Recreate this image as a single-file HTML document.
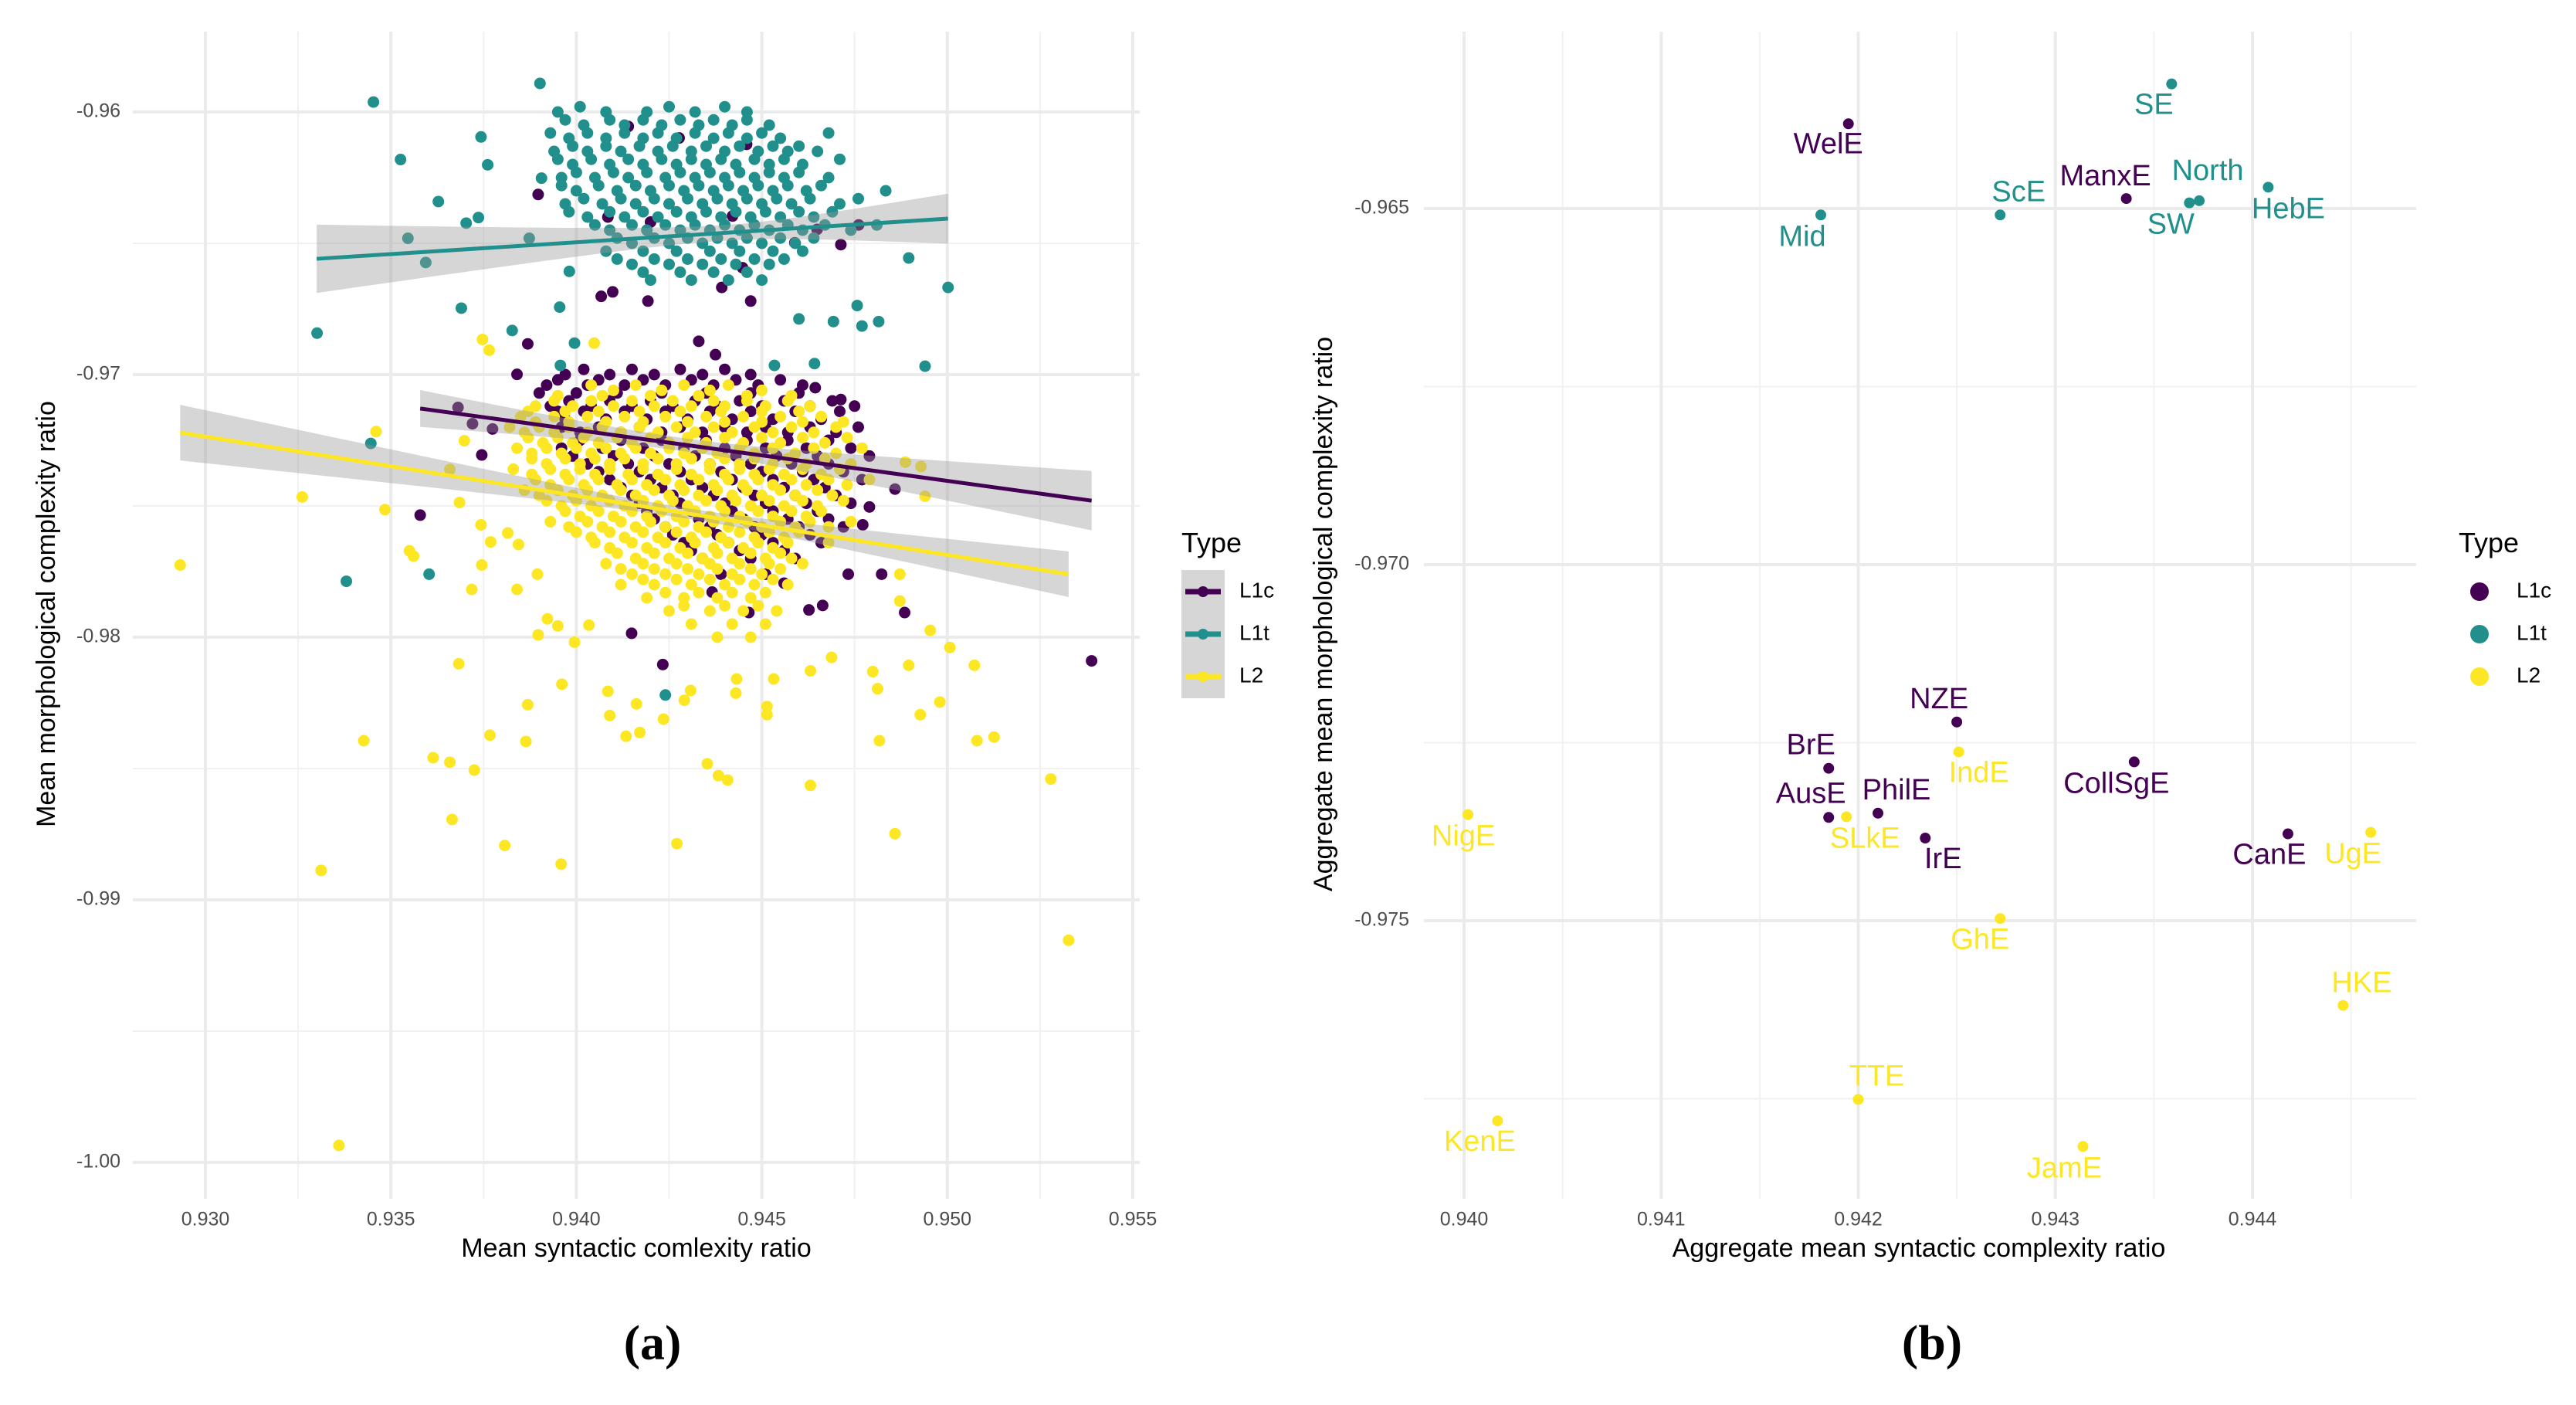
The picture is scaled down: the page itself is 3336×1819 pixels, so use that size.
<!DOCTYPE html>
<html><head><meta charset="utf-8"><style>
html,body{margin:0;padding:0;background:#fff;}
svg{display:block;font-family:"Liberation Sans",sans-serif;}
</style></head><body>
<svg id="fig" width="3336" height="1819" viewBox="0 0 3336 1819" xmlns="http://www.w3.org/2000/svg">
<rect width="3336" height="1819" fill="#fff"/>
<g id="pa"></g>
<g id="pb"></g>
<text x="845" y="1745" font-family="Liberation Serif,serif" font-weight="bold" font-size="64" text-anchor="middle" dominant-baseline="middle">(a)</text>
<text x="2502" y="1745" font-family="Liberation Serif,serif" font-weight="bold" font-size="64" text-anchor="middle" dominant-baseline="middle">(b)</text>
</svg>
<script>
const NS='http://www.w3.org/2000/svg';
const groups=['L1c','L1t','L2'];
const colors={L1c:'#440154',L1t:'#21908C',L2:'#FDE725'};
// ---- panel a data ----
const aXTicks=[0.930,0.935,0.940,0.945,0.950,0.955];
const aYTicks=[-0.96,-0.97,-0.98,-0.99,-1.00];
const aYTickLabels=['-0.96','-0.97','-0.98','-0.99','-1.00'];
const l1cX=[0.9402,0.9415,0.9428,0.9440,0.9395,0.9406,0.9418,0.9431,0.9443,0.9455,0.9390,0.9400,0.9411,0.9423,0.9435,0.9447,0.9460,0.9393,0.9404,0.9415,0.9426,0.9438,0.9450,0.9463,0.9475,0.9397,0.9408,0.9419,0.9430,0.9442,0.9453,0.9466,0.9401,0.9412,0.9423,0.9434,0.9446,0.9457,0.9470,0.9396,0.9407,0.9418,0.9429,0.9440,0.9451,0.9462,0.9474,0.9403,0.9414,0.9425,0.9436,0.9447,0.9458,0.9468,0.9409,0.9420,0.9431,0.9442,0.9453,0.9464,0.9477,0.9415,0.9426,0.9437,0.9448,0.9459,0.9470,0.9419,0.9431,0.9442,0.9453,0.9465,0.9424,0.9436,0.9448,0.9460,0.9472,0.9429,0.9441,0.9453,0.9466,0.9434,0.9447,0.9459,0.9439,0.9451,
0.95389,0.94233,0.94149,0.93579,0.94885,0.94664,0.94627,0.94733,0.94823,0.94772,0.94644,0.94713,0.93681,0.93720,0.93745,0.93840,0.93869,0.93774,0.94790,0.94859,0.94560,0.94465,0.94366,
0.93897,0.94140,0.94085,0.94098,0.94200,0.94277,0.94421,0.94459,0.94589,0.94713,0.94448,0.94392,0.94330,0.94470,0.94649,0.94761,0.94067,0.94193,0.94375,
0.9397,0.9409,0.9421,0.9434,0.9447,0.9392,0.9403,0.9413,0.9424,0.9437,0.9449,0.9461,0.9398,0.9409,0.9420,0.9432,0.9444,0.9456,0.9469,0.9395,0.9402,0.9413,0.9424,0.9436,0.9447,0.9459,0.9471,0.9396,0.9406,0.9417,0.9428,0.9440,0.9451,0.9463,0.9476,0.9401,0.9412,0.9423,0.9435,0.9446,0.9457,0.9468,0.9399,0.9410,0.9421,0.9432,0.9443,0.9454,0.9465,0.9479,0.9406,0.9417,0.9428,0.9439,0.9450,0.9461,0.9472,0.9412,0.9423,0.9434,0.9445,0.9456,0.9467,0.9417,0.9428,0.9440,0.9451,0.9462,0.9474,0.9421,0.9433,0.9445,0.9457,0.9468,0.9426,0.9438,0.9450,0.9463,0.9431,0.9444,0.9456];
const l1cY=[-0.9698,-0.9698,-0.9698,-0.9698,-0.9702,-0.9702,-0.9702,-0.9702,-0.9702,-0.9702,-0.9707,-0.9707,-0.9707,-0.9707,-0.9707,-0.9707,-0.9707,-0.9712,-0.9712,-0.9712,-0.9712,-0.9712,-0.9712,-0.9712,-0.9712,-0.9717,-0.9717,-0.9717,-0.9717,-0.9717,-0.9717,-0.9717,-0.9722,-0.9722,-0.9722,-0.9722,-0.9722,-0.9722,-0.9722,-0.9728,-0.9728,-0.9728,-0.9728,-0.9728,-0.9728,-0.9728,-0.9728,-0.9734,-0.9734,-0.9734,-0.9734,-0.9734,-0.9734,-0.9734,-0.9740,-0.9740,-0.9740,-0.9740,-0.9740,-0.9740,-0.9740,-0.9746,-0.9746,-0.9746,-0.9746,-0.9746,-0.9746,-0.9752,-0.9752,-0.9752,-0.9752,-0.9752,-0.9758,-0.9758,-0.9758,-0.9758,-0.9758,-0.9764,-0.9764,-0.9764,-0.9764,-0.9770,-0.9770,-0.9770,-0.9776,-0.9776,
-0.98090,-0.98104,-0.97985,-0.97535,-0.97906,-0.97879,-0.97896,-0.97760,-0.97760,-0.97572,-0.97050,-0.97095,-0.97125,-0.97187,-0.97306,-0.96999,-0.96883,-0.97207,-0.97504,-0.97436,-0.97794,-0.97906,-0.97828,
-0.96314,-0.96055,-0.96400,-0.96685,-0.96419,-0.96099,-0.96396,-0.96123,-0.96498,-0.96505,-0.96593,-0.96668,-0.96873,-0.96720,-0.96447,-0.96430,-0.96702,-0.96720,-0.96924,
-0.9700,-0.9700,-0.9700,-0.9700,-0.9700,-0.9704,-0.9704,-0.9704,-0.9704,-0.9704,-0.9704,-0.9704,-0.9710,-0.9710,-0.9710,-0.9710,-0.9710,-0.9710,-0.9710,-0.9714,-0.9714,-0.9714,-0.9714,-0.9714,-0.9714,-0.9714,-0.9714,-0.9720,-0.9720,-0.9720,-0.9720,-0.9720,-0.9720,-0.9720,-0.9720,-0.9725,-0.9725,-0.9725,-0.9725,-0.9725,-0.9725,-0.9725,-0.9731,-0.9731,-0.9731,-0.9731,-0.9731,-0.9731,-0.9731,-0.9731,-0.9737,-0.9737,-0.9737,-0.9737,-0.9737,-0.9737,-0.9737,-0.9743,-0.9743,-0.9743,-0.9743,-0.9743,-0.9743,-0.9749,-0.9749,-0.9749,-0.9749,-0.9749,-0.9749,-0.9755,-0.9755,-0.9755,-0.9755,-0.9755,-0.9761,-0.9761,-0.9761,-0.9761,-0.9767,-0.9767,-0.9767];
const l1tX=[0.9401,0.9425,0.9440,0.9397,0.9409,0.9418,0.9428,0.9437,0.9446,0.9393,0.9403,0.9413,0.9422,0.9432,0.9441,0.9450,0.9468,0.9399,0.9408,0.9417,0.9426,0.9435,0.9444,0.9453,0.9460,0.9395,0.9404,0.9414,0.9423,0.9431,0.9439,0.9448,0.9456,0.9471,0.9400,0.9410,0.9419,0.9428,0.9436,0.9444,0.9452,0.9460,0.9396,0.9406,0.9416,0.9425,0.9433,0.9441,0.9449,0.9457,0.9466,0.9402,0.9412,0.9421,0.9430,0.9438,0.9446,0.9454,0.9463,0.9476,0.9398,0.9409,0.9418,0.9427,0.9435,0.9443,0.9451,0.9460,0.9469,0.9405,0.9415,0.9424,0.9432,0.9440,0.9448,0.9457,0.9467,0.9481,0.9411,0.9421,0.9430,0.9438,0.9446,0.9455,0.9464,0.9408,0.9418,0.9427,0.9436,0.9444,0.9453,0.9461,0.9415,0.9425,0.9434,0.9443,0.9452,0.9420,0.9431,0.9441,0.9450,
0.93453,0.93526,0.93301,0.93380,0.93446,0.93546,0.93594,0.93628,0.93690,0.93703,0.93736,0.93743,0.93761,0.93603,0.93827,0.93873,0.93902,0.93906,0.94940,0.95002,0.94896,0.94240,0.94815,0.94770,0.94757,0.94834,0.94642,0.94693,0.94600,0.94534,0.93957,0.93995,0.93955,0.93981,
0.9395,0.9408,0.9419,0.9432,0.9446,0.9402,0.9413,0.9423,0.9433,0.9442,0.9452,0.9398,0.9408,0.9418,0.9427,0.9437,0.9446,0.9455,0.9394,0.9403,0.9412,0.9422,0.9431,0.9440,0.9449,0.9457,0.9465,0.9399,0.9409,0.9418,0.9427,0.9435,0.9443,0.9452,0.9461,0.9396,0.9405,0.9414,0.9424,0.9432,0.9440,0.9448,0.9456,0.9468,0.9400,0.9411,0.9420,0.9429,0.9437,0.9445,0.9453,0.9462,0.9397,0.9407,0.9416,0.9425,0.9434,0.9442,0.9450,0.9458,0.9471,0.9403,0.9413,0.9422,0.9431,0.9439,0.9447,0.9455,0.9464,0.9409,0.9419,0.9428,0.9436,0.9444,0.9452,0.9461,0.9474,0.9415,0.9425,0.9434,0.9442,0.9450,0.9459,0.9411,0.9421,0.9430,0.9439,0.9448,0.9456,0.9418,0.9428,0.9437,0.9446];
const l1tY=[-0.9598,-0.9598,-0.9598,-0.9603,-0.9603,-0.9603,-0.9603,-0.9603,-0.9603,-0.9608,-0.9608,-0.9608,-0.9608,-0.9608,-0.9608,-0.9608,-0.9608,-0.9613,-0.9613,-0.9613,-0.9613,-0.9613,-0.9613,-0.9613,-0.9613,-0.9618,-0.9618,-0.9618,-0.9618,-0.9618,-0.9618,-0.9618,-0.9618,-0.9618,-0.9623,-0.9623,-0.9623,-0.9623,-0.9623,-0.9623,-0.9623,-0.9623,-0.9628,-0.9628,-0.9628,-0.9628,-0.9628,-0.9628,-0.9628,-0.9628,-0.9628,-0.9633,-0.9633,-0.9633,-0.9633,-0.9633,-0.9633,-0.9633,-0.9633,-0.9633,-0.9638,-0.9638,-0.9638,-0.9638,-0.9638,-0.9638,-0.9638,-0.9638,-0.9638,-0.9643,-0.9643,-0.9643,-0.9643,-0.9643,-0.9643,-0.9643,-0.9643,-0.9643,-0.9648,-0.9648,-0.9648,-0.9648,-0.9648,-0.9648,-0.9648,-0.9653,-0.9653,-0.9653,-0.9653,-0.9653,-0.9653,-0.9653,-0.9658,-0.9658,-0.9658,-0.9658,-0.9658,-0.9664,-0.9664,-0.9664,-0.9664,
-0.95962,-0.96181,-0.96842,-0.97787,-0.97262,-0.96481,-0.96573,-0.96341,-0.96747,-0.96423,-0.96402,-0.96095,-0.96201,-0.97760,-0.96832,-0.96481,-0.95891,-0.96252,-0.96968,-0.96668,-0.96556,-0.98220,-0.96798,-0.96815,-0.96737,-0.96300,-0.96958,-0.96798,-0.96788,-0.96965,-0.96965,-0.96880,-0.96743,-0.96607,
-0.9600,-0.9600,-0.9600,-0.9600,-0.9600,-0.9605,-0.9605,-0.9605,-0.9605,-0.9605,-0.9605,-0.9610,-0.9610,-0.9610,-0.9610,-0.9610,-0.9610,-0.9610,-0.9615,-0.9615,-0.9615,-0.9615,-0.9615,-0.9615,-0.9615,-0.9615,-0.9615,-0.9620,-0.9620,-0.9620,-0.9620,-0.9620,-0.9620,-0.9620,-0.9620,-0.9625,-0.9625,-0.9625,-0.9625,-0.9625,-0.9625,-0.9625,-0.9625,-0.9625,-0.9630,-0.9630,-0.9630,-0.9630,-0.9630,-0.9630,-0.9630,-0.9630,-0.9635,-0.9635,-0.9635,-0.9635,-0.9635,-0.9635,-0.9635,-0.9635,-0.9635,-0.9640,-0.9640,-0.9640,-0.9640,-0.9640,-0.9640,-0.9640,-0.9640,-0.9645,-0.9645,-0.9645,-0.9645,-0.9645,-0.9645,-0.9645,-0.9645,-0.9650,-0.9650,-0.9650,-0.9650,-0.9650,-0.9650,-0.9656,-0.9656,-0.9656,-0.9656,-0.9656,-0.9656,-0.9661,-0.9661,-0.9661,-0.9661];
const l2X=[0.9404,0.9416,0.9429,0.9441,0.9395,0.9407,0.9420,0.9433,0.9446,0.9458,0.9389,0.9399,0.9410,0.9421,0.9431,0.9440,0.9451,0.9463,0.9385,0.9394,0.9403,0.9413,0.9424,0.9435,0.9445,0.9455,0.9466,0.9382,0.9390,0.9398,0.9407,0.9417,0.9427,0.9437,0.9448,0.9458,0.9470,0.9387,0.9395,0.9402,0.9411,0.9420,0.9430,0.9440,0.9450,0.9461,0.9473,0.9384,0.9392,0.9400,0.9408,0.9416,0.9425,0.9434,0.9444,0.9453,0.9464,0.9477,0.9388,0.9397,0.9405,0.9413,0.9422,0.9431,0.9440,0.9448,0.9457,0.9467,0.9383,0.9393,0.9401,0.9409,0.9418,0.9427,0.9436,0.9444,0.9452,0.9461,0.9471,0.9389,0.9398,0.9406,0.9415,0.9424,0.9433,0.9441,0.9449,0.9458,0.9468,0.9479,0.9386,0.9395,0.9403,0.9412,0.9421,0.9429,0.9438,0.9446,0.9455,0.9465,0.9392,0.9400,0.9409,0.9418,0.9426,0.9435,0.9443,0.9452,0.9461,0.9472,0.9397,0.9406,0.9415,0.9423,0.9432,0.9440,0.9449,0.9458,0.9466,0.9393,0.9403,0.9412,0.9420,0.9429,0.9437,0.9446,0.9455,0.9463,0.9474,0.9400,0.9409,0.9418,0.9427,0.9435,0.9444,0.9452,0.9460,0.9405,0.9415,0.9424,0.9432,0.9441,0.9449,0.9457,0.9468,0.9411,0.9421,0.9430,0.9438,0.9447,0.9455,0.9408,0.9418,0.9427,0.9436,0.9444,0.9452,0.9461,0.9415,0.9424,0.9433,0.9442,0.9450,0.9412,0.9421,0.9431,0.9440,0.9448,0.9457,0.9419,0.9429,0.9438,0.9447,0.9425,0.9436,0.9445,0.9454,0.9431,0.9442,0.9451,0.9438,0.9447,
0.93261,0.93312,0.93360,0.93427,0.93460,0.93484,0.93550,0.93561,0.93614,0.93659,0.93665,0.93683,0.93725,0.93767,0.93807,0.93864,0.93869,0.93959,0.93961,0.93995,0.94034,0.94085,0.94090,0.94134,0.94171,0.94162,0.94235,0.94271,0.94291,0.94308,0.94353,0.94383,0.94408,0.94430,0.94432,0.94514,0.94514,0.94532,0.94631,0.94631,0.94688,0.94799,0.94812,0.94817,0.94859,0.94896,0.94927,0.94954,0.94980,0.95007,0.95073,0.95080,0.95126,0.95279,0.95327,0.92932,0.94929,0.94940,0.94887,0.94872,0.94872,
0.93745,0.93769,0.93718,0.93743,0.93685,0.93659,0.93698,0.93747,0.93765,0.93840,0.93895,0.93922,0.93897,0.93950,0.93844,0.93815,0.94048,
0.9410,0.9423,0.9436,0.9450,0.9394,0.9404,0.9415,0.9426,0.9437,0.9446,0.9457,0.9387,0.9397,0.9406,0.9417,0.9428,0.9439,0.9450,0.9460,0.9389,0.9398,0.9408,0.9418,0.9430,0.9440,0.9450,0.9461,0.9472,0.9386,0.9394,0.9403,0.9412,0.9422,0.9432,0.9442,0.9453,0.9464,0.9391,0.9399,0.9406,0.9415,0.9425,0.9435,0.9445,0.9455,0.9467,0.9388,0.9396,0.9404,0.9412,0.9420,0.9429,0.9438,0.9448,0.9459,0.9470,0.9392,0.9401,0.9409,0.9418,0.9427,0.9436,0.9444,0.9453,0.9462,0.9474,0.9388,0.9397,0.9405,0.9414,0.9422,0.9431,0.9440,0.9448,0.9456,0.9466,0.9393,0.9402,0.9411,0.9419,0.9428,0.9437,0.9445,0.9453,0.9462,0.9473,0.9390,0.9399,0.9407,0.9416,0.9425,0.9433,0.9442,0.9450,0.9459,0.9469,0.9396,0.9404,0.9413,0.9422,0.9430,0.9439,0.9447,0.9456,0.9465,0.9401,0.9410,0.9419,0.9427,0.9436,0.9444,0.9453,0.9462,0.9398,0.9407,0.9416,0.9424,0.9433,0.9441,0.9450,0.9459,0.9468,0.9404,0.9413,0.9422,0.9431,0.9439,0.9448,0.9456,0.9409,0.9419,0.9428,0.9437,0.9445,0.9453,0.9416,0.9425,0.9434,0.9442,0.9451,0.9458,0.9412,0.9421,0.9430,0.9438,0.9447,0.9455,0.9418,0.9427,0.9436,0.9444,0.9453,0.9424,0.9433,0.9442,0.9451,0.9429,0.9440,0.9449];
const l2Y=[-0.9704,-0.9704,-0.9704,-0.9704,-0.9708,-0.9708,-0.9708,-0.9708,-0.9708,-0.9708,-0.9712,-0.9712,-0.9712,-0.9712,-0.9712,-0.9712,-0.9712,-0.9712,-0.9716,-0.9716,-0.9716,-0.9716,-0.9716,-0.9716,-0.9716,-0.9716,-0.9716,-0.9720,-0.9720,-0.9720,-0.9720,-0.9720,-0.9720,-0.9720,-0.9720,-0.9720,-0.9720,-0.9724,-0.9724,-0.9724,-0.9724,-0.9724,-0.9724,-0.9724,-0.9724,-0.9724,-0.9724,-0.9728,-0.9728,-0.9728,-0.9728,-0.9728,-0.9728,-0.9728,-0.9728,-0.9728,-0.9728,-0.9728,-0.9732,-0.9732,-0.9732,-0.9732,-0.9732,-0.9732,-0.9732,-0.9732,-0.9732,-0.9732,-0.9736,-0.9736,-0.9736,-0.9736,-0.9736,-0.9736,-0.9736,-0.9736,-0.9736,-0.9736,-0.9736,-0.9740,-0.9740,-0.9740,-0.9740,-0.9740,-0.9740,-0.9740,-0.9740,-0.9740,-0.9740,-0.9740,-0.9744,-0.9744,-0.9744,-0.9744,-0.9744,-0.9744,-0.9744,-0.9744,-0.9744,-0.9744,-0.9748,-0.9748,-0.9748,-0.9748,-0.9748,-0.9748,-0.9748,-0.9748,-0.9748,-0.9748,-0.9752,-0.9752,-0.9752,-0.9752,-0.9752,-0.9752,-0.9752,-0.9752,-0.9752,-0.9756,-0.9756,-0.9756,-0.9756,-0.9756,-0.9756,-0.9756,-0.9756,-0.9756,-0.9756,-0.9760,-0.9760,-0.9760,-0.9760,-0.9760,-0.9760,-0.9760,-0.9760,-0.9764,-0.9764,-0.9764,-0.9764,-0.9764,-0.9764,-0.9764,-0.9764,-0.9768,-0.9768,-0.9768,-0.9768,-0.9768,-0.9768,-0.9772,-0.9772,-0.9772,-0.9772,-0.9772,-0.9772,-0.9772,-0.9776,-0.9776,-0.9776,-0.9776,-0.9776,-0.9780,-0.9780,-0.9780,-0.9780,-0.9780,-0.9780,-0.9785,-0.9785,-0.9785,-0.9785,-0.9790,-0.9790,-0.9790,-0.9790,-0.9795,-0.9795,-0.9795,-0.9800,-0.9800,
-0.97466,-0.98888,-0.99935,-0.98394,-0.97217,-0.97514,-0.97671,-0.97691,-0.98459,-0.98476,-0.98694,-0.98101,-0.98506,-0.98373,-0.98793,-0.98397,-0.98257,-0.98864,-0.98179,-0.98019,-0.97954,-0.98206,-0.98298,-0.98377,-0.98363,-0.98254,-0.98312,-0.98786,-0.98240,-0.98203,-0.98482,-0.98527,-0.98544,-0.98213,-0.98159,-0.98264,-0.98295,-0.98159,-0.98564,-0.98128,-0.98077,-0.98131,-0.98196,-0.98394,-0.98748,-0.98107,-0.98295,-0.97974,-0.98247,-0.98039,-0.98107,-0.98394,-0.98380,-0.98540,-0.99154,-0.97725,-0.97350,-0.97463,-0.97333,-0.97760,-0.97862,
-0.97725,-0.97637,-0.97818,-0.97572,-0.97487,-0.97361,-0.97252,-0.96866,-0.96907,-0.97818,-0.97760,-0.97930,-0.97991,-0.97957,-0.97647,-0.97603,-0.96880,
-0.9706,-0.9706,-0.9706,-0.9706,-0.9710,-0.9710,-0.9710,-0.9710,-0.9710,-0.9710,-0.9710,-0.9714,-0.9714,-0.9714,-0.9714,-0.9714,-0.9714,-0.9714,-0.9714,-0.9718,-0.9718,-0.9718,-0.9718,-0.9718,-0.9718,-0.9718,-0.9718,-0.9718,-0.9722,-0.9722,-0.9722,-0.9722,-0.9722,-0.9722,-0.9722,-0.9722,-0.9722,-0.9726,-0.9726,-0.9726,-0.9726,-0.9726,-0.9726,-0.9726,-0.9726,-0.9726,-0.9730,-0.9730,-0.9730,-0.9730,-0.9730,-0.9730,-0.9730,-0.9730,-0.9730,-0.9730,-0.9734,-0.9734,-0.9734,-0.9734,-0.9734,-0.9734,-0.9734,-0.9734,-0.9734,-0.9734,-0.9738,-0.9738,-0.9738,-0.9738,-0.9738,-0.9738,-0.9738,-0.9738,-0.9738,-0.9738,-0.9742,-0.9742,-0.9742,-0.9742,-0.9742,-0.9742,-0.9742,-0.9742,-0.9742,-0.9742,-0.9746,-0.9746,-0.9746,-0.9746,-0.9746,-0.9746,-0.9746,-0.9746,-0.9746,-0.9746,-0.9750,-0.9750,-0.9750,-0.9750,-0.9750,-0.9750,-0.9750,-0.9750,-0.9750,-0.9754,-0.9754,-0.9754,-0.9754,-0.9754,-0.9754,-0.9754,-0.9754,-0.9758,-0.9758,-0.9758,-0.9758,-0.9758,-0.9758,-0.9758,-0.9758,-0.9758,-0.9762,-0.9762,-0.9762,-0.9762,-0.9762,-0.9762,-0.9762,-0.9766,-0.9766,-0.9766,-0.9766,-0.9766,-0.9766,-0.9770,-0.9770,-0.9770,-0.9770,-0.9770,-0.9770,-0.9774,-0.9774,-0.9774,-0.9774,-0.9774,-0.9774,-0.9778,-0.9778,-0.9778,-0.9778,-0.9778,-0.9783,-0.9783,-0.9783,-0.9783,-0.9788,-0.9788,-0.9788];
// regression fits: [x0, x1, y0, y1, halfwidth left, halfwidth min, halfwidth right, x at min]
const fitL1c=[0.93579,0.95389,-0.97129,-0.97480,0.0007,0.00025,0.00113,0.9430];
const fitL1t=[0.93300,0.95002,-0.96559,-0.96406,0.0013,0.0003,0.00095,0.9440];
const fitL2=[0.92932,0.95327,-0.97221,-0.97760,0.00106,0.0002,0.00087,0.9430];
// ---- panel b data ----
const bXTicks=[0.940,0.941,0.942,0.943,0.944];
const bYTicks=[-0.965,-0.970,-0.975];
const bNames=['WelE','Mid','ScE','ManxE','SE','SW','North','HebE','NZE','IndE','BrE','CollSgE','AusE','SLkE','PhilE','IrE','NigE','CanE','UgE','GhE','HKE','TTE','KenE','JamE'];
const bTypes=['L1c','L1t','L1t','L1c','L1t','L1t','L1t','L1t','L1c','L2','L1c','L1c','L1c','L2','L1c','L1c','L2','L1c','L2','L2','L2','L2','L2','L2'];
const bX=[0.94195,0.94181,0.94272,0.94336,0.94359,0.94368,0.94373,0.94408,0.94250,0.94251,0.94185,0.94340,0.94185,0.94194,0.94210,0.94234,0.94002,0.94418,0.94460,0.94272,0.94446,0.94200,0.94017,0.94314];
const bY=[-0.96381,-0.96509,-0.96509,-0.96486,-0.96325,-0.96492,-0.96489,-0.96470,-0.97221,-0.97263,-0.97286,-0.97277,-0.97355,-0.97354,-0.97349,-0.97384,-0.97351,-0.97378,-0.97376,-0.97497,-0.97619,-0.97751,-0.97781,-0.97817];
// label nudges (px)
const bLabelDX=[-26,-24,24,-27,-23,-24,11,26,-23,26,-23,-23,-23,24,24,23,-6,-24,-23,-26,24,24,-23,-24];
const bLabelDY=[28,30,-28,-27,29,30,-37,30,-28,29,-28,30,-29,30,-28,29,30,29,30,29,-27,-28,29,30];

function el(tag,attrs,parent){const e=document.createElementNS(NS,tag);for(const k in attrs)e.setAttribute(k,attrs[k]);parent.appendChild(e);return e;}
function scale(d0,d1,r0,r1){return v=>r0+(v-d0)/(d1-d0)*(r1-r0);}

// ===== Panel A =====
const pa=document.getElementById('pa');
const A={l:172,r:1476,t:41,b:1552};
const ax=scale(0.930,0.955,266,1467), ay=scale(-0.96,-1.00,145,1505);
for(let i=0;i<aXTicks.length-1;i++){const v=(aXTicks[i]+aXTicks[i+1])/2;const g=el('line',{x1:ax(v),x2:ax(v),y1:A.t,y2:A.b,stroke:'#F1F1F1','stroke-width':2},pa);
}
for(let i=0;i<aYTicks.length-1;i++){const v=(aYTicks[i]+aYTicks[i+1])/2;const g=el('line',{x1:A.l,x2:A.r,y1:ay(v),y2:ay(v),stroke:'#F1F1F1','stroke-width':2},pa);
}
aXTicks.forEach(v=>{const g=el('line',{x1:ax(v),x2:ax(v),y1:A.t,y2:A.b,stroke:'#EBEBEB','stroke-width':4},pa);

const t=el('text',{x:ax(v),y:1580,'font-size':25,fill:'#4D4D4D','text-anchor':'middle','dominant-baseline':'middle'},pa);t.textContent=v.toFixed(3);
});
aYTicks.forEach((v,i)=>{const g=el('line',{x1:A.l,x2:A.r,y1:ay(v),y2:ay(v),stroke:'#EBEBEB','stroke-width':4},pa);

const t=el('text',{x:156,y:ay(v),'font-size':25,fill:'#4D4D4D','text-anchor':'end','dominant-baseline':'middle'},pa);t.textContent=aYTickLabels[i];
});

const pts={L1c:[l1cX,l1cY],L1t:[l1tX,l1tY],L2:[l2X,l2Y]};
const fits={L1c:fitL1c,L1t:fitL1t,L2:fitL2};
groups.forEach(gname=>{const [xs,ys]=pts[gname];
  for(let i=0;i<xs.length;i++){const c=el('circle',{cx:ax(xs[i]),cy:ay(ys[i]),r:7.5,fill:colors[gname]},pa);
  
  }
});
function hw(f,x){const [x0,x1,,,hl,hm,hr,xm]=f;const e=x<xm?hl:hr;const span=x<xm?(xm-x0):(x1-xm);const u=(x-xm)/span;return Math.sqrt(hm*hm+(e*e-hm*hm)*u*u);}
groups.forEach(gname=>{const f=fits[gname];const [x0,x1,y0,y1]=f;const N=40;let up=[],lo=[];
  for(let i=0;i<=N;i++){const x=x0+(x1-x0)*i/N;const y=y0+(y1-y0)*i/N;const h=hw(f,x);up.push(ax(x)+','+ay(y+h));lo.push(ax(x)+','+ay(y-h));}
  const band=el('polygon',{points:up.concat(lo.reverse()).join(' '),fill:'#999999','fill-opacity':0.4},pa);
  
  
  const ln=el('line',{x1:ax(x0),y1:ay(y0),x2:ax(x1),y2:ay(y1),stroke:colors[gname],'stroke-width':5},pa);
  
  
});
let t=el('text',{x:824,y:1618,'font-size':34,'text-anchor':'middle','dominant-baseline':'middle'},pa);t.textContent='Mean syntactic comlexity ratio';

t=el('text',{x:62,y:795,'font-size':34,'text-anchor':'middle','dominant-baseline':'middle',transform:'rotate(-90 62 795)'},pa);t.textContent='Mean morphological complexity ratio';

t=el('text',{x:1530,y:715,'font-size':36},pa);t.textContent='Type';

let kb=el('rect',{x:1530,y:738,width:56,height:166,fill:'#D6D6D6'},pa);

groups.forEach((gname,i)=>{const y=766+55*i;
  const l=el('line',{x1:1535,x2:1581,y1:y,y2:y,stroke:colors[gname],'stroke-width':7},pa);
  
  const c=el('circle',{cx:1558,cy:y,r:7,fill:colors[gname]},pa);
  
  const tx=el('text',{x:1605,y:y,'font-size':28,'dominant-baseline':'middle'},pa);tx.textContent=gname;
  });

// ===== Panel B =====
const pb=document.getElementById('pb');
const B={l:1844,r:3129,t:41,b:1552};
const bx=scale(0.940,0.944,1896,2917), by=scale(-0.965,-0.975,270,1192);
for(let i=0;i<bXTicks.length;i++){const v=bXTicks[i]+0.0005;if(bx(v)<B.r){const g=el('line',{x1:bx(v),x2:bx(v),y1:B.t,y2:B.b,stroke:'#F1F1F1','stroke-width':2},pb);
}}
[-0.9675,-0.9725,-0.9775].forEach(v=>{const g=el('line',{x1:B.l,x2:B.r,y1:by(v),y2:by(v),stroke:'#F1F1F1','stroke-width':2},pb);
});
bXTicks.forEach(v=>{const g=el('line',{x1:bx(v),x2:bx(v),y1:B.t,y2:B.b,stroke:'#EBEBEB','stroke-width':4},pb);

const t=el('text',{x:bx(v),y:1580,'font-size':25,fill:'#4D4D4D','text-anchor':'middle','dominant-baseline':'middle'},pb);t.textContent=v.toFixed(3);
});
bYTicks.forEach(v=>{const g=el('line',{x1:B.l,x2:B.r,y1:by(v),y2:by(v),stroke:'#EBEBEB','stroke-width':4},pb);

const t=el('text',{x:1825,y:by(v),'font-size':25,fill:'#4D4D4D','text-anchor':'end','dominant-baseline':'middle'},pb);t.textContent=v.toFixed(3);
});
bNames.forEach((n,i)=>{const cx=bx(bX[i]),cy=by(bY[i]);
  const c=el('circle',{cx:cx,cy:cy,r:7,fill:colors[bTypes[i]]},pb);
  
  
  const tx=el('text',{x:cx+bLabelDX[i],y:cy+bLabelDY[i],'font-size':38,fill:colors[bTypes[i]],'text-anchor':'middle','dominant-baseline':'middle'},pb);tx.textContent=n;
  
  });
t=el('text',{x:2485,y:1618,'font-size':34,'text-anchor':'middle','dominant-baseline':'middle'},pb);t.textContent='Aggregate mean syntactic complexity ratio';

t=el('text',{x:1716,y:795,'font-size':34,'text-anchor':'middle','dominant-baseline':'middle',transform:'rotate(-90 1716 795)'},pb);t.textContent='Aggregate mean morphological complexity ratio';

t=el('text',{x:3184,y:715,'font-size':36},pb);t.textContent='Type';

groups.forEach((gname,i)=>{const y=766+55*i;
  const c=el('circle',{cx:3211,cy:y,r:12,fill:colors[gname]},pb);
  
  const tx=el('text',{x:3259,y:y,'font-size':28,'dominant-baseline':'middle'},pb);tx.textContent=gname;
  });
</script>
</body></html>
